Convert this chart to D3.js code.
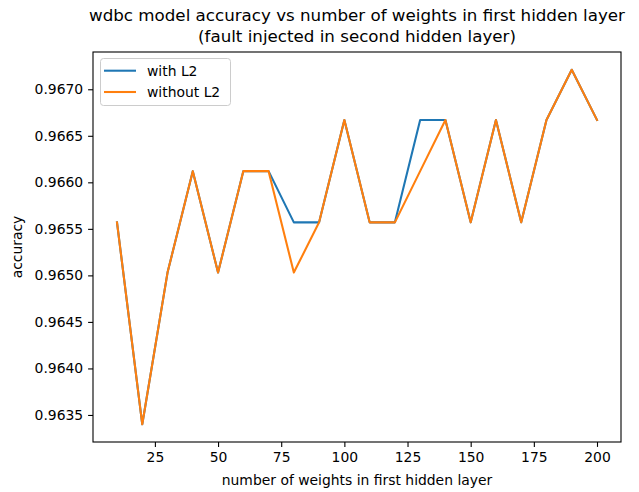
<!DOCTYPE html>
<html><head><meta charset="utf-8">
<script src="https://cdn.jsdelivr.net/npm/d3@7"></script>
<style>body{margin:0;background:#fff}svg{display:block}text{font-family:"DejaVu Sans",sans-serif;fill:#000}</style>
</head><body>
<script>
const weights = [10,20,30,40,50,60,70,80,90,100,110,120,130,140,150,160,170,180,190,200];
const withL2 = [0.96557,0.96340,0.96503,0.96612,0.96503,0.96612,0.96612,0.96557,0.96557,0.96667,0.96557,0.96557,0.96667,0.96667,0.96557,0.96667,0.96557,0.96667,0.96721,0.96667];
const withoutL2 = [0.96557,0.96340,0.96503,0.96612,0.96503,0.96612,0.96612,0.96503,0.96557,0.96667,0.96557,0.96557,0.96612,0.96667,0.96557,0.96667,0.96557,0.96667,0.96721,0.96667];
const seriesNames = ["with L2","without L2"];
const colors = ["#1f77b4","#ff7f0e"];
const xTicks = [25,50,75,100,125,150,175,200];
const yTicks = [0.9635,0.9640,0.9645,0.9650,0.9655,0.9660,0.9665,0.9670];

const W=639,H=492, L=93, R=621, T=52, B=442;
const svg=d3.select("body").append("svg").attr("width",W).attr("height",H);
const x=d3.scaleLinear().domain([0.5,209.5]).range([L,R]);
const yMin=0.96340,yMax=0.96721,pad=(yMax-yMin)*0.05;
const y=d3.scaleLinear().domain([yMin-pad,yMax+pad]).range([B,T]);

const line=d3.line().x((d,i)=>x(weights[i])).y(d=>y(d));
[withL2,withoutL2].forEach((s,k)=>{
  svg.append("path").datum(s).attr("d",line).attr("fill","none")
    .attr("stroke",colors[k]).attr("stroke-width",2.08).attr("stroke-linejoin","round").attr("stroke-linecap","square");
});

const xa=svg.append("g").attr("transform",`translate(0,${B})`)
  .call(d3.axisBottom(x).tickValues(xTicks).tickSize(4.9).tickPadding(4.9).tickFormat(d3.format("d")));
const ya=svg.append("g").attr("transform",`translate(${L},0)`)
  .call(d3.axisLeft(y).tickValues(yTicks).tickSize(4.9).tickPadding(4.9).tickFormat(d3.format(".4f")));
[xa,ya].forEach(a=>{a.select(".domain").remove();
  a.selectAll("line").attr("stroke","#000").attr("stroke-width",1.1);
  a.selectAll("text").attr("font-size",13.9).attr("font-family","DejaVu Sans").attr("fill","#000");});

svg.append("rect").attr("x",L).attr("y",T).attr("width",R-L).attr("height",B-T)
  .attr("fill","none").attr("stroke","#000").attr("stroke-width",1.1);

svg.append("text").attr("x",(L+R)/2).attr("y",21).attr("text-anchor","middle").attr("font-size",16.7)
  .text("wdbc model accuracy vs number of weights in first hidden layer");
svg.append("text").attr("x",(L+R)/2).attr("y",42).attr("text-anchor","middle").attr("font-size",16.7)
  .text("(fault injected in second hidden layer)");
svg.append("text").attr("x",(L+R)/2).attr("y",485).attr("text-anchor","middle").attr("font-size",13.9)
  .text("number of weights in first hidden layer");
svg.append("text").attr("transform",`translate(22,${(T+B)/2}) rotate(-90)`).attr("text-anchor","middle").attr("font-size",13.9)
  .text("accuracy");

const lg=svg.append("g");
lg.append("rect").attr("x",100.5).attr("y",58.5).attr("width",130).attr("height",47).attr("rx",3)
  .attr("fill","#fff").attr("fill-opacity",0.8).attr("stroke","#ccc").attr("stroke-width",1);
seriesNames.forEach((n,k)=>{
  const yy=70.7+k*21.3;
  lg.append("line").attr("x1",104).attr("x2",136).attr("y1",yy).attr("y2",yy).attr("stroke",colors[k]).attr("stroke-width",2.08);
  lg.append("text").attr("x",147).attr("y",yy+5).attr("font-size",13.9).text(n);
});
</script>
</body></html>
